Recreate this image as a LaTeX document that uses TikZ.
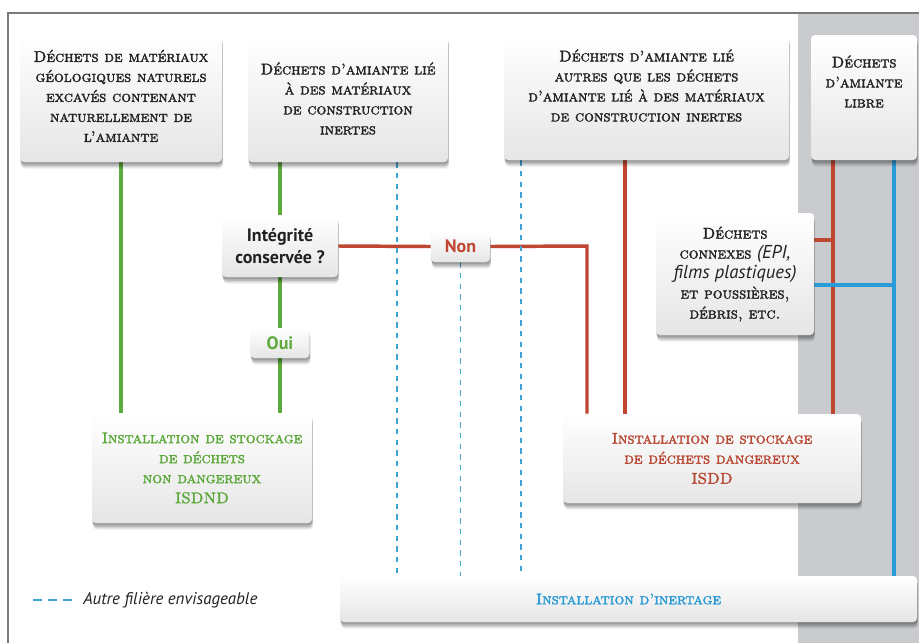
\documentclass[tikz,border=0pt]{standalone}
\usepackage{fontspec}
\newfontfamily\labelsans{PT Sans}
\newfontfamily\capsfont{lmromancaps10-regular.otf}[FakeBold=2]
\usetikzlibrary{shadows}

\definecolor{linegreen}{HTML}{5DAA3C}
\definecolor{linered}{HTML}{BF4630}
\definecolor{lineblue}{HTML}{2A9DD8}
\definecolor{dashblue}{HTML}{3FA3D3}
\definecolor{bandgray}{HTML}{C9CBCE}
\definecolor{framegray}{HTML}{7A7A7A}
\definecolor{ink}{HTML}{222222}
\definecolor{txtgreen}{HTML}{5CA83A}
\definecolor{txtred}{HTML}{B94733}
\definecolor{txtblue}{HTML}{2A9AD4}

\pgfdeclarelayer{band}
\pgfdeclarelayer{links}
\pgfsetlayers{band,links,main}

\tikzset{
  % soft shadow built from a few stacked translucent copies
  soft shadow/.style={
    drop shadow={shadow xshift=0.8pt, shadow yshift=-5pt, opacity=0.07, fill=black},
    drop shadow={shadow xshift=0.7pt, shadow yshift=-4pt, opacity=0.09, fill=black},
    drop shadow={shadow xshift=0.5pt, shadow yshift=-3pt, opacity=0.12, fill=black},
    drop shadow={shadow xshift=0.3pt, shadow yshift=-1.8pt, opacity=0.15, fill=black}},
  panel/.style={rounded corners=3pt, top color=white, bottom color=black!10,
    soft shadow, inner sep=0pt},
  boxtext/.style={align=center, text=ink, inner sep=0pt,
    font=\capsfont\fontsize{11.6}{15}\selectfont},
  tag/.style={panel, align=center, font=\labelsans\bfseries\fontsize{13.5}{16.5}\selectfont},
  green link/.style={draw=linegreen, line width=2.6pt},
  red link/.style={draw=linered, line width=2.6pt},
  blue link/.style={draw=lineblue, line width=2.6pt},
  alt link/.style={draw=dashblue, line width=1.1pt, dash pattern=on 4pt off 4pt},
}

\begin{document}
\begin{tikzpicture}[x=0.75pt, y=-0.75pt]
  \useasboundingbox (0,0) rectangle (919,643);

  % page, grey column on the right and frame lines
  \begin{pgfonlayer}{band}
    \fill[white] (0,0) rectangle (919,643);
    \fill[bandgray] (798,13) rectangle (919,643);
    \draw[framegray, line width=1.5pt] (8,643) -- (8,13) -- (919,13);
  \end{pgfonlayer}

  % waste categories
  \node[panel, minimum width=151.5pt, minimum height=95.25pt] (A) at (121,98.5) {};
  \node[boxtext] (At) at ([yshift=2pt]A.center) {Déchets de matériaux\\géologiques naturels\\excavés contenant\\naturellement de\\l’amiante};

  \node[panel, minimum width=150pt, minimum height=95.25pt] (B) at (348,98.5) {};
  \node[boxtext] (Bt) at (B.center) {Déchets d’amiante lié\\à des matériaux\\de construction\\inertes};

  \node[panel, minimum width=213.75pt, minimum height=93.75pt] (C) at (646.5,97.5) {};
  \node[boxtext] (Ct) at ([yshift=9pt]C.center) {Déchets d’amiante lié\\autres que les déchets\\d’amiante lié à des matériaux\\de construction inertes};

  \node[panel, minimum width=79.5pt, minimum height=93.75pt] (D) at (864,97.5) {};
  \node[boxtext] (Dt) at ([yshift=12pt]D.center) {Déchets\\d’amiante\\libre};

  \node[panel, minimum width=118.5pt, minimum height=91.5pt] (E) at (735,274) {};
  \node[boxtext] (Et) at (E.center) {Déchets\\connexes {\labelsans\itshape\fontsize{14}{15}\selectfont (EPI,}\\{\labelsans\itshape\fontsize{14}{15}\selectfont films plastiques)}\\et poussières,\\débris, etc.};

  % decision tags
  \node[tag, minimum width=87pt, minimum height=46.5pt, text=ink] (Q) at (280,246) {Intégrité\\conservée ?};
  \node[tag, minimum width=44.25pt, minimum height=23.25pt, text=linered] (Non) at (460.5,246.5) {Non};
  \node[tag, minimum width=44.25pt, minimum height=22.5pt, text=linegreen] (Oui) at (280,343) {Oui};

  % destinations
  \node[panel, minimum width=165pt, minimum height=82.5pt] (N) at (202,468) {};
  \node[boxtext, text=txtgreen] (Nt) at (N.center) {Installation de stockage\\de déchets\\non dangereux\\ISDND};

  \node[panel, minimum width=223.5pt, minimum height=66.75pt] (H) at (712,458.5) {};
  \node[boxtext, text=txtred] (Ht) at (H.center) {Installation de stockage\\de déchets dangereux\\ISDD};

  \node[panel, minimum width=432.75pt, minimum height=34.5pt] (I) at (628.5,599) {};
  \node[boxtext, text=txtblue] (It) at (I.center) {Installation d’inertage};

  % legend
  \coordinate (lg1) at (33,600);
  \coordinate (lg2) at (72,600);
  \node[anchor=west, inner sep=0pt, text=ink, font=\labelsans\itshape\fontsize{12.7}{15}\selectfont] (L) at (83,600) {Autre filière envisageable};

  % connector columns
  \coordinate (xr1) at (587,246);
  \coordinate (xr2) at (625,0);
  \coordinate (xr3) at (833,0);
  \coordinate (xb) at (894,0);
  \coordinate (xd1) at (397,0);
  \coordinate (xd2) at (521,0);

  \begin{pgfonlayer}{links}
    % non-hazardous route
    \draw[green link] (A.south) -- (A.south |- N.north);
    \draw[green link] (Q.north |- B.south) -- (Q.north);
    \draw[green link] (Q.south) -- (Oui.north);
    \draw[green link] (Oui.south) -- (Oui.south |- N.north);
    % hazardous route
    \draw[red link] (Q.east) -- (Non.west);
    \draw[red link] (Non.east) -- (xr1) -- (xr1 |- H.north);
    \draw[red link] (xr2 |- C.south) -- (xr2 |- H.north);
    \draw[red link] (xr3 |- D.south) -- (xr3 |- H.north);
    \draw[red link] ([yshift=25.5pt]E.east) coordinate (er) -- (er -| xr3);
    % inerting route
    \draw[blue link] ([yshift=-8.25pt]E.east) coordinate (eb) -- (eb -| xb);
    \draw[blue link] (xb |- D.south) -- (xb |- I.north);
    \draw[alt link] (xd1 |- B.south) -- (xd1 |- I.north);
    \draw[alt link] (xd2 |- C.south) -- (xd2 |- I.north);
    \draw[alt link] (Non.south) -- (Non.south |- I.north);
  \end{pgfonlayer}

  % legend sample: three dashes
  \draw[dashblue, line width=1.6pt, dash pattern=on 7pt off 4.125pt] (lg1) -- (lg2);
\end{tikzpicture}
\end{document}
